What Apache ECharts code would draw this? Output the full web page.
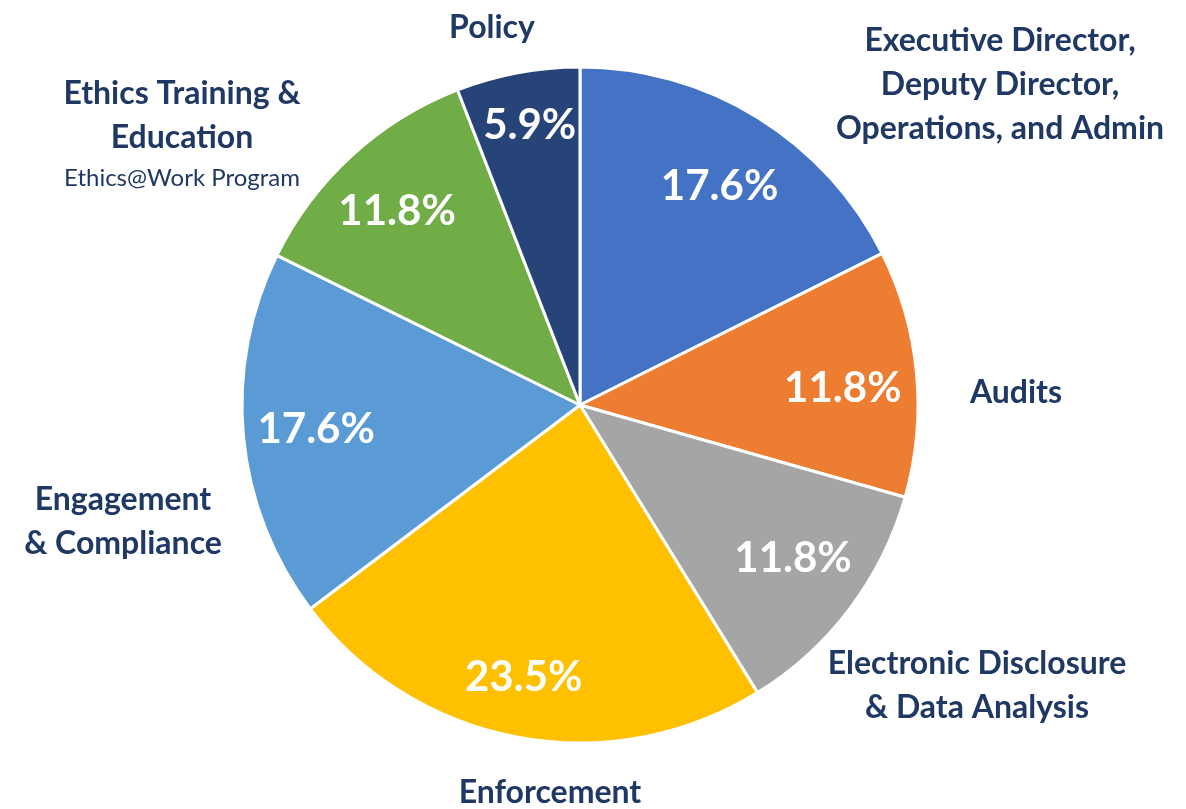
<!DOCTYPE html>
<html>
<head>
<meta charset="utf-8">
<style>
  html, body { margin: 0; padding: 0; background: #fff; }
  #main { width: 1186px; height: 809px; }
</style>
<script src="https://cdn.jsdelivr.net/npm/echarts@6/dist/echarts.min.js"></script>
</head>
<body>
<div id="main"></div>
<script>
// data
var categories = [
    'Executive Director,\nDeputy Director,\nOperations, and Admin',
    'Audits',
    'Electronic Disclosure\n& Data Analysis',
    'Enforcement',
    'Engagement\n& Compliance',
    'Ethics Training &\nEducation',
    'Policy'
];
var shares = [17.6, 11.8, 11.8, 23.5, 17.6, 11.8, 5.9];
var subtitles = ['', '', '', '', '', 'Ethics@Work Program', ''];

var colors = ['#4472C4', '#ED7D31', '#A5A5A5', '#FFC000', '#5B9BD5', '#70AD47', '#264478'];
var navy = '#1F3864';
var font = 'Lato, "Open Sans", sans-serif';

// where each name label sits (label centre, px)
var namePos = [
    [1000, 85], [1016, 393], [977, 686], [550, 793],
    [123, 522], [182, 134], [492, 28]
];
// small nudges for the percentage labels
var pctShift = [[2, 4], [2, 8], [4, -5], [-8, 15], [-3, 0], [-6, 0], [-2, -22]];

var pieData = categories.map(function (c, i) {
    return { name: c, value: shares[i], sub: subtitles[i] };
});

var option = {
    animation: false,
    color: colors,
    series: [
        {
            type: 'pie',
            center: [580, 405],
            radius: [0, 338],
            startAngle: 90,
            clockwise: true,
            silent: true,
            itemStyle: { borderColor: '#fff', borderWidth: 3 },
            label: {
                show: true,
                position: 'outside',
                overflow: 'none',
                formatter: function (p) {
                    var lines = p.name.split('\n').map(function (l) { return '{b|' + l + '}'; });
                    if (p.data.sub) lines.push('{s|' + p.data.sub + '}');
                    return lines.join('\n');
                },
                rich: {
                    b: { fontFamily: font, fontWeight: 'bold', fontSize: 32, color: navy, lineHeight: 44, align: 'center' },
                    s: { fontFamily: font, fontSize: 24, color: navy, lineHeight: 36, align: 'center' }
                }
            },
            labelLine: { show: false },
            labelLayout: function (p) {
                var pos = namePos[p.dataIndex];
                return { x: pos[0], y: pos[1], align: 'center', verticalAlign: 'middle', hideOverlap: false };
            },
            data: pieData
        },
        {
            type: 'pie',
            center: [580, 405],
            radius: [180, 338],
            startAngle: 90,
            clockwise: true,
            silent: true,
            itemStyle: { color: 'transparent', borderWidth: 0 },
            label: {
                show: true,
                position: 'inside',
                formatter: '{c}%',
                color: '#fff',
                fontFamily: font,
                fontWeight: 'bold',
                fontSize: 42
            },
            labelLine: { show: false },
            labelLayout: function (p) {
                var s = pctShift[p.dataIndex];
                return { dx: s[0], dy: s[1] };
            },
            data: pieData
        }
    ]
};

var myChart = echarts.init(document.getElementById('main'));
myChart.setOption(option);
</script>
</body>
</html>
